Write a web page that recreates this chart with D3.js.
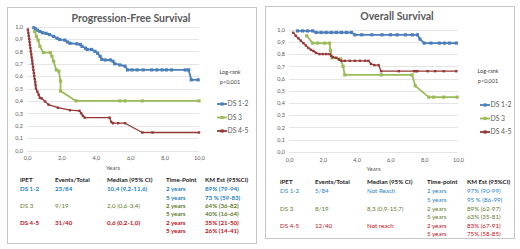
<!DOCTYPE html>
<html>
<head>
<meta charset="utf-8">
<script src="https://cdnjs.cloudflare.com/ajax/libs/d3/7.8.5/d3.min.js"></script>
<style>
  body { margin: 0; background: #fff; }
  svg { display: block; font-family: Lato, "Open Sans", sans-serif; }
</style>
</head>
<body>
<div id="chart"></div>
<script>
// axis ticks
const yTicks = [0, 0.1, 0.2, 0.3, 0.4, 0.5, 0.6, 0.7, 0.8, 0.9, 1.0];
const xTicks = [0, 2, 4, 6, 8, 10];
const seriesNames = ["DS 1-2", "DS 3", "DS 4-5"];

// Progression-free survival, [years, survival]
const pfsDs12 = [[0.4,0.99],[0.5,0.98],[0.6,0.97],[0.75,0.96],[0.9,0.95],[1.1,0.945],[1.3,0.935],[1.55,0.92],[1.75,0.905],[1.9,0.895],[2.2,0.89],[2.35,0.875],[2.5,0.865],[2.9,0.86],[3.1,0.855],[3.2,0.84],[3.4,0.825],[3.5,0.815],[3.75,0.815],[3.95,0.8],[4.1,0.785],[4.25,0.76],[4.35,0.735],[4.55,0.73],[4.85,0.73],[5.0,0.72],[5.1,0.7],[5.4,0.69],[5.7,0.68],[5.85,0.65],[6.1,0.65],[6.4,0.65],[6.75,0.65],[7.25,0.65],[7.55,0.65],[7.85,0.65],[8.1,0.65],[8.4,0.65],[9.2,0.65],[9.4,0.65],[9.55,0.57],[9.95,0.57]];
const pfsDs3 = [[0.45,0.96],[0.55,0.92],[0.65,0.89],[0.75,0.84],[0.95,0.79],[1.35,0.79],[1.45,0.76],[1.55,0.72],[1.7,0.65],[1.85,0.64],[1.95,0.56],[1.95,0.48],[2.85,0.4],[5.4,0.4],[5.7,0.4],[6.7,0.4],[10,0.4]];
const pfsDs45 = [[0.05,0.975],[0.08,0.95],[0.1,0.925],[0.13,0.9],[0.15,0.875],[0.17,0.85],[0.2,0.825],[0.22,0.8],[0.25,0.775],[0.27,0.75],[0.3,0.725],[0.32,0.7],[0.35,0.675],[0.37,0.65],[0.4,0.625],[0.42,0.6],[0.45,0.575],[0.48,0.55],[0.5,0.525],[0.52,0.5],[0.6,0.475],[0.68,0.45],[0.75,0.425],[0.85,0.42],[1.05,0.395],[1.25,0.37],[1.8,0.345],[2.5,0.325],[3.05,0.32],[3.15,0.3],[3.25,0.28],[3.35,0.265],[4.8,0.265],[4.9,0.23],[5.0,0.22],[5.3,0.22],[5.7,0.22],[6.7,0.145],[7.3,0.145],[10,0.145]];

// Overall survival, [years, survival]
const osDs12 = [[0.5,0.99],[0.8,0.99],[1.1,0.99],[1.4,0.99],[1.6,0.977],[1.9,0.977],[2.2,0.977],[2.5,0.977],[2.8,0.977],[3.1,0.977],[3.4,0.977],[3.7,0.977],[3.9,0.958],[4.3,0.958],[4.9,0.958],[5.5,0.958],[6.0,0.958],[6.4,0.958],[6.9,0.958],[7.3,0.958],[7.6,0.958],[7.75,0.923],[8.0,0.89],[8.4,0.89],[8.9,0.89],[9.2,0.89],[9.5,0.89],[9.9,0.89]];
const osDs3 = [[1.05,0.95],[1.4,0.89],[1.7,0.89],[2.1,0.89],[2.4,0.89],[2.45,0.83],[2.55,0.77],[3.05,0.76],[3.2,0.7],[3.3,0.63],[5.46,0.63],[7.28,0.63],[7.47,0.54],[8.27,0.447],[8.56,0.447],[9.15,0.447],[9.95,0.447]];
const osDs45 = [[0.25,0.975],[0.4,0.95],[0.55,0.93],[0.7,0.91],[0.85,0.89],[1.0,0.87],[1.15,0.85],[1.3,0.835],[1.45,0.825],[1.6,0.81],[1.8,0.8],[2.0,0.8],[2.2,0.8],[2.4,0.8],[2.5,0.785],[2.6,0.775],[2.8,0.77],[2.95,0.755],[3.1,0.745],[3.3,0.745],[3.6,0.745],[3.9,0.745],[4.2,0.745],[4.5,0.745],[4.7,0.745],[4.85,0.72],[5.05,0.71],[5.3,0.71],[5.45,0.66],[6.5,0.66],[7.4,0.66],[7.5,0.66],[7.6,0.66],[8.2,0.66],[8.65,0.66],[9.15,0.66],[9.9,0.66]];

// summary tables
const pfsHeader = ["iPET", "Events/Total", "Median (95% CI)", "Time-Point", "KM Est (95%CI)"];
const pfsRows = [
  ["DS 1-2", "23/84", "10,4 (9,2-11,6)", "2 years", "89% (79-94)"],
  ["", "", "", "5 years", "73 % (59-83)"],
  ["DS 3", "9/19", "2,0 (0,6-3,4)", "2 years", "64% (36-82)"],
  ["", "", "", "5 years", "40% (16-64)"],
  ["DS 4-5", "31/40", "0,6 (0,2-1,0)", "2 years", "35% (21-50)"],
  ["", "", "", "5 years", "26% (14-41)"]
];
const osHeader = ["iPET", "Events/Total", "Median (95% CI)", "Time-point", "KM Est (95%CI)"];
const osRows = [
  ["DS 1-2", "5/84", "Not Reach", "2 years", "97% (90-99)"],
  ["", "", "", "5 years", "95 % (86-99)"],
  ["DS 3", "8/19", "8,3 (0,9-15,7)", "2 years", "89% (62-97)"],
  ["", "", "", "5 years", "63% (35-81)"],
  ["DS 4-5", "12/40", "Not reach", "2 years", "83% (67-91)"],
  ["", "", "", "5 years", "75% (58-85)"]
];

const lineColors = ["#4a7ebb", "#9bbb59", "#953735"];
const textColors = ["#1f7fc4", "#5f7a2e", "#c0101a"];
const rowGroup = [0, 0, 1, 1, 2, 2];

const svg = d3.select("#chart").append("svg")
  .attr("width", 520)
  .attr("height", 249);

const fmt = v => d3.format(".1f")(v).replace(".", ",");

function drawPanel(p) {
  const g = svg.append("g");

  // panel frame
  g.append("rect")
    .attr("x", p.box[0] + 0.5).attr("y", p.box[1] + 0.5)
    .attr("width", p.box[2]).attr("height", p.box[3])
    .attr("fill", "#fff").attr("stroke", "#c8c8c8");

  const x = d3.scaleLinear().domain([0, 10]).range([p.plot[0], p.plot[1]]);
  const y = d3.scaleLinear().domain([0, 1]).range([p.plot[3], p.plot[2]]);

  // gridlines
  g.append("g").selectAll("line")
    .data(yTicks)
    .join("line")
    .attr("x1", x(0)).attr("x2", x(10))
    .attr("y1", d => Math.round(y(d)) + 0.5).attr("y2", d => Math.round(y(d)) + 0.5)
    .attr("stroke", "#dedede").attr("stroke-width", 0.8);

  // y axis
  const yAxis = g.append("g")
    .attr("transform", `translate(${x(0) - 2},0)`)
    .call(d3.axisLeft(y).tickValues(yTicks).tickFormat(fmt).tickSize(0).tickPadding(2));
  yAxis.select(".domain").remove();
  yAxis.selectAll("text").attr("fill", "#595959").style("font-size", "5.5px").style("font-family", "Lato");

  // x axis
  const xAxis = g.append("g")
    .attr("transform", `translate(0,${y(0) + 3})`)
    .call(d3.axisBottom(x).tickValues(xTicks).tickFormat(fmt).tickSize(0).tickPadding(3));
  xAxis.select(".domain").remove();
  xAxis.selectAll("text").attr("fill", "#595959").style("font-size", "5.5px").style("font-family", "Lato");

  g.append("text")
    .attr("x", (x(0) + x(10)) / 2).attr("y", p.yearsY)
    .attr("text-anchor", "middle")
    .attr("fill", "#595959").style("font-size", "6px")
    .text("Years");

  // title
  g.append("text")
    .attr("x", p.titleX).attr("y", p.titleY)
    .attr("text-anchor", "middle")
    .attr("fill", "#595959").style("font-size", "10.5px").style("font-weight", "bold")
    .text(p.title);

  // curves
  const line = d3.line().x(d => x(d[0])).y(d => y(d[1]));
  p.series.forEach((s, i) => {
    g.append("path")
      .datum(s)
      .attr("d", line)
      .attr("fill", "none")
      .attr("stroke", lineColors[i])
      .attr("stroke-width", i === 2 ? 1.3 : 1.8)
      .attr("stroke-linejoin", "round");
    const ms = i === 2 ? 2.4 : 3.2;
    g.append("g").selectAll("rect")
      .data(s)
      .join("rect")
      .attr("x", d => x(d[0]) - ms / 2).attr("y", d => y(d[1]) - ms / 2)
      .attr("width", ms).attr("height", ms)
      .attr("fill", lineColors[i]);
  });

  // log-rank note
  g.append("text")
    .attr("x", p.logX).attr("y", p.logY)
    .attr("text-anchor", "middle")
    .attr("fill", "#404040").style("font-size", "5.5px")
    .text("Log-rank");
  g.append("text")
    .attr("x", p.logX).attr("y", p.logY + 10)
    .attr("text-anchor", "middle")
    .attr("fill", "#404040").style("font-size", "5.5px")
    .text("p<0,001");

  // legend
  seriesNames.forEach((name, i) => {
    const ly = p.legY + i * 13.5;
    g.append("line")
      .attr("x1", p.legX).attr("x2", p.legX + 10)
      .attr("y1", ly).attr("y2", ly)
      .attr("stroke", lineColors[i]).attr("stroke-width", 1.8);
    g.append("rect")
      .attr("x", p.legX + 3.5).attr("y", ly - 1.6)
      .attr("width", 3.2).attr("height", 3.2)
      .attr("fill", lineColors[i]);
    g.append("text")
      .attr("x", p.legX + 10.5).attr("y", ly)
      .attr("dy", "0.35em")
      .attr("fill", "#595959").style("font-size", "6.8px")
      .text(name);
  });

  // table
  const cols = p.cols;
  g.append("g").selectAll("text")
    .data(p.header)
    .join("text")
    .attr("x", (d, j) => cols[j]).attr("y", p.rowY[0])
    .attr("dy", "0.35em")
    .attr("fill", "#1a1a1a").style("font-size", "6.2px").style("font-weight", "bold")
    .text(d => d);

  p.rows.forEach((row, r) => {
    const grp = rowGroup[r];
    g.append("g").selectAll("text")
      .data(row)
      .join("text")
      .attr("x", (d, j) => cols[j]).attr("y", p.rowY[r + 1])
      .attr("dy", "0.35em")
      .attr("fill", textColors[grp])
      .style("font-size", "6.2px")
      .style("font-weight", (d, j) => p.bold(grp, j) ? "bold" : "normal")
      .text(d => d);
  });
}

drawPanel({
  box: [7, 7, 249, 236],
  plot: [27, 199, 26.5, 150.5],
  title: "Progression-Free Survival",
  titleX: 131, titleY: 22,
  yearsY: 170,
  logX: 230, logY: 74,
  legX: 217, legY: 104,
  series: [pfsDs12, pfsDs3, pfsDs45],
  cols: [20, 55, 107, 166, 205],
  rowY: [180, 189, 197.5, 205.5, 214, 222.5, 231],
  header: pfsHeader,
  rows: pfsRows,
  bold: (grp, j) => grp !== 1 || j >= 3
});

drawPanel({
  box: [265, 6, 249, 232],
  plot: [289, 458, 29.7, 151.7],
  title: "Overall Survival",
  titleX: 397, titleY: 19.5,
  yearsY: 171,
  logX: 488, logY: 73,
  legX: 480, legY: 105,
  series: [osDs12, osDs3, osDs45],
  cols: [280, 315, 367, 427, 467],
  rowY: [182, 191, 200, 208.5, 217, 225.5, 234],
  header: osHeader,
  rows: osRows,
  bold: () => false
});
</script>
</body>
</html>
